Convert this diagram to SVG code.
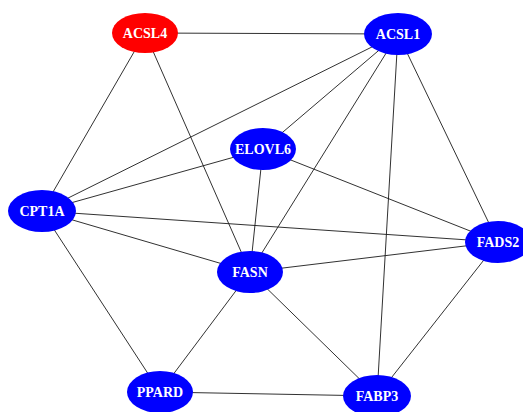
<svg xmlns="http://www.w3.org/2000/svg" width="523" height="412" viewBox="0 0 523 412">
<style>
.e{stroke:#1a1a1a;stroke-width:0.9;fill:none}
.n{stroke:none}
.b{fill:#0000ff}
.r{fill:#ff0000}
text{font-family:"Liberation Serif","DejaVu Serif",serif;font-weight:bold;font-size:14px;fill:#ffffff;text-anchor:middle;dominant-baseline:central}
</style>
<rect width="523" height="412" fill="#ffffff"/>
<g id="edges">
<line class="e" x1="145" y1="33" x2="398" y2="34"/>
<line class="e" x1="145" y1="33" x2="42" y2="211"/>
<line class="e" x1="145" y1="33" x2="250" y2="272"/>
<line class="e" x1="398" y1="34" x2="42" y2="211"/>
<line class="e" x1="398" y1="34" x2="263" y2="149"/>
<line class="e" x1="398" y1="34" x2="250" y2="272"/>
<line class="e" x1="398" y1="34" x2="377" y2="396"/>
<line class="e" x1="398" y1="34" x2="498" y2="242"/>
<line class="e" x1="42" y1="211" x2="263" y2="149"/>
<line class="e" x1="42" y1="211" x2="498" y2="242"/>
<line class="e" x1="42" y1="211" x2="250" y2="272"/>
<line class="e" x1="42" y1="211" x2="160" y2="392"/>
<line class="e" x1="263" y1="149" x2="250" y2="272"/>
<line class="e" x1="263" y1="149" x2="498" y2="242"/>
<line class="e" x1="250" y1="272" x2="498" y2="242"/>
<line class="e" x1="250" y1="272" x2="160" y2="392"/>
<line class="e" x1="250" y1="272" x2="377" y2="396"/>
<line class="e" x1="498" y1="242" x2="377" y2="396"/>
<line class="e" x1="160" y1="392" x2="377" y2="396"/>
</g>
<g id="ACSL4"><ellipse class="n r" cx="145" cy="33" rx="33" ry="20"/><text x="145" y="33">ACSL4</text></g>
<g id="ACSL1"><ellipse class="n b" cx="398" cy="34" rx="34" ry="21"/><text x="398" y="34">ACSL1</text></g>
<g id="ELOVL6"><ellipse class="n b" cx="263" cy="149" rx="33" ry="21"/><text x="263" y="149">ELOVL6</text></g>
<g id="CPT1A"><ellipse class="n b" cx="42" cy="211" rx="34" ry="21"/><text x="42" y="211">CPT1A</text></g>
<g id="FADS2"><ellipse class="n b" cx="498" cy="242" rx="33" ry="21"/><text x="498" y="242">FADS2</text></g>
<g id="FASN"><ellipse class="n b" cx="250" cy="272" rx="33" ry="21"/><text x="250" y="272">FASN</text></g>
<g id="PPARD"><ellipse class="n b" cx="160" cy="392" rx="33" ry="21"/><text x="160" y="392">PPARD</text></g>
<g id="FABP3"><ellipse class="n b" cx="377" cy="396" rx="34" ry="21"/><text x="377" y="396">FABP3</text></g>
</svg>
